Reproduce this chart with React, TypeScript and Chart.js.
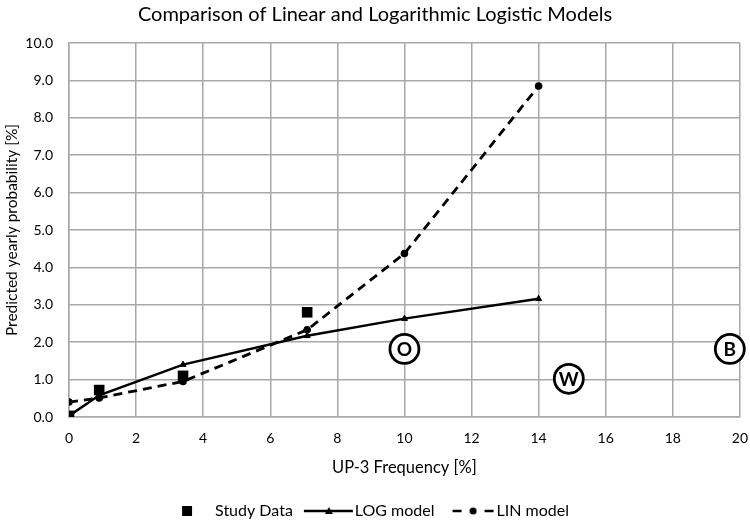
import { useEffect, useRef } from 'react';
import { Chart, registerables } from 'chart.js';

Chart.register(...registerables);

const FONT = 'Lato, "DejaVu Sans", sans-serif';

const titleText = 'Comparison of Linear and Logarithmic Logistic Models';
const xTitle = 'UP-3 Frequency [%]';
const yTitle = 'Predicted yearly probability [%]';
const seriesNames = ['Study Data', 'LOG model', 'LIN model'];

const studyX = [0, 0.9, 3.4, 7.1];
const studyY = [0.03, 0.72, 1.1, 2.8];
const modelX = [0, 0.9, 3.4, 7.1, 10, 14];
const logY = [0.03, 0.58, 1.4, 2.17, 2.63, 3.16];
const linY = [0.4, 0.51, 0.95, 2.33, 4.37, 8.85];

const zoneX = [10, 14.9, 19.7];
const zoneY = [1.82, 1.02, 1.82];
const zoneLabels = ['O', 'W', 'B'];

const xMin = 0, xMax = 20, xStep = 2;
const yMin = 0, yMax = 10, yStep = 1;

const BOXW = 54;
const IMGW = 70;

function makeLegendImage(kind: string): HTMLCanvasElement {
  const c = document.createElement('canvas');
  c.width = IMGW;
  c.height = 16;
  const ctx = c.getContext('2d')!;
  ctx.fillStyle = '#000';
  ctx.strokeStyle = '#000';
  const cy = 8;
  if (kind === 'square') {
    ctx.fillRect(42 - 5, cy - 5, 10, 10);
  } else if (kind === 'log') {
    ctx.lineWidth = 2.5;
    ctx.beginPath();
    ctx.moveTo(19, cy);
    ctx.lineTo(68, cy);
    ctx.stroke();
    const mx = 44;
    ctx.beginPath();
    ctx.moveTo(mx, cy - 4);
    ctx.lineTo(mx + 4, cy + 3);
    ctx.lineTo(mx - 4, cy + 3);
    ctx.closePath();
    ctx.fill();
  } else {
    ctx.lineWidth = 2.5;
    ctx.beginPath();
    ctx.moveTo(26, cy);
    ctx.lineTo(35, cy);
    ctx.moveTo(58, cy);
    ctx.lineTo(67, cy);
    ctx.stroke();
    ctx.beginPath();
    ctx.arc(46.5, cy, 3.5, 0, Math.PI * 2);
    ctx.fill();
  }
  return c;
}

const zoneLetterPlugin = {
  id: 'zoneLetters',
  afterDatasetsDraw(chart: any) {
    const meta = chart.getDatasetMeta(3);
    const ctx = chart.ctx;
    ctx.save();
    ctx.fillStyle = '#000';
    ctx.font = `bold 19px ${FONT}`;
    ctx.textAlign = 'center';
    ctx.textBaseline = 'middle';
    meta.data.forEach((pt: any, i: number) => {
      ctx.fillText(zoneLabels[i], pt.x, pt.y + 1);
    });
    ctx.restore();
  },
};

const legendShiftPlugin = {
  id: 'legendShift',
  afterLayout(chart: any) {
    const lg = chart.legend;
    if (lg) {
      lg.left -= 14;
      lg.right -= 14;
    }
  },
};

export default function App() {
  const ref = useRef<HTMLCanvasElement | null>(null);

  useEffect(() => {
    if (!ref.current) return;
    const imgs = [makeLegendImage('square'), makeLegendImage('log'), makeLegendImage('lin')];
    const grid = '#a8a8a8';
    const chart = new Chart(ref.current, {
      type: 'scatter',
      data: {
        datasets: [
          {
            label: seriesNames[0],
            data: studyX.map((x, i) => ({ x, y: studyY[i] })),
            showLine: false,
            pointStyle: 'rect',
            pointRadius: 7.5,
            pointBackgroundColor: '#000',
            pointBorderColor: '#000',
            pointBorderWidth: 0,
            order: 1,
          },
          {
            label: seriesNames[1],
            data: modelX.map((x, i) => ({ x, y: logY[i] })),
            showLine: true,
            borderColor: '#000',
            borderWidth: 2.5,
            pointStyle: 'triangle',
            pointRadius: 3.5,
            pointBackgroundColor: '#000',
            pointBorderColor: '#000',
            pointBorderWidth: 1,
            order: 2,
          },
          {
            label: seriesNames[2],
            data: modelX.map((x, i) => ({ x, y: linY[i] })),
            showLine: true,
            borderColor: '#000',
            borderWidth: 2.8,
            borderDash: [9, 6],
            pointStyle: 'circle',
            pointRadius: 3.8,
            pointBackgroundColor: '#000',
            pointBorderColor: '#000',
            pointBorderWidth: 0,
            order: 3,
          },
          {
            label: 'zones',
            data: zoneX.map((x, i) => ({ x, y: zoneY[i] })),
            showLine: false,
            pointStyle: 'circle',
            pointRadius: 14.5,
            pointBackgroundColor: '#fff',
            pointBorderColor: '#000',
            pointBorderWidth: 2.8,
            clip: false as any,
            order: 4,
          },
        ],
      },
      options: {
        animation: false,
        responsive: false,
        layout: { autoPadding: false, padding: { left: 0, right: 0, top: 0, bottom: -9 } },
        plugins: {
          title: {
            display: true,
            text: titleText,
            color: '#000',
            font: { family: FONT, size: 20, weight: 'normal' },
            padding: { top: 3, bottom: 16 },
          },
          legend: {
            position: 'bottom',
            labels: {
              usePointStyle: true,
              pointStyleWidth: BOXW,
              padding: 0,
              color: '#000',
              font: { family: FONT, size: 16 },
              generateLabels: () =>
                seriesNames.map((name, i) => ({
                  text: name,
                  datasetIndex: i,
                  pointStyle: imgs[i],
                  fillStyle: '#000',
                  strokeStyle: '#000',
                  lineWidth: 0,
                  hidden: false,
                  fontColor: '#000',
                })),
            },
          },
          tooltip: { enabled: false },
        },
        scales: {
          x: {
            type: 'linear',
            min: xMin,
            max: xMax,
            afterFit: (s: any) => { s.height = 86; },
            ticks: { stepSize: xStep, color: '#000', padding: 2, font: { family: FONT, size: 14 } },
            grid: { color: grid, lineWidth: 1.5, drawTicks: true, tickLength: 11, tickColor: 'rgba(0,0,0,0)' },
            border: { color: grid, width: 1.5 },
            title: {
              display: true,
              text: xTitle,
              color: '#000',
              font: { family: FONT, size: 16.5 },
              padding: { top: 0, bottom: 25 },
            },
          },
          y: {
            type: 'linear',
            min: yMin,
            max: yMax,
            afterFit: (s: any) => { s.width = 69; },
            ticks: {
              stepSize: yStep,
              color: '#000',
              padding: 16,
              font: { family: FONT, size: 14 },
              callback: (v: any) => Number(v).toFixed(1),
            },
            grid: { color: grid, lineWidth: 1.5, drawTicks: false },
            border: { color: grid, width: 1.5 },
            title: {
              display: true,
              text: yTitle,
              color: '#000',
              font: { family: FONT, size: 15.5 },
              padding: { top: 3, bottom: 0 },
            },
          },
        },
      },
      plugins: [zoneLetterPlugin, legendShiftPlugin],
    } as any);
    return () => chart.destroy();
  }, []);

  return (
    <div style={{ position: 'absolute', left: 0, top: 0, width: 750, height: 520, background: '#fff' }}>
      <canvas ref={ref} width={750} height={520} />
    </div>
  );
}
